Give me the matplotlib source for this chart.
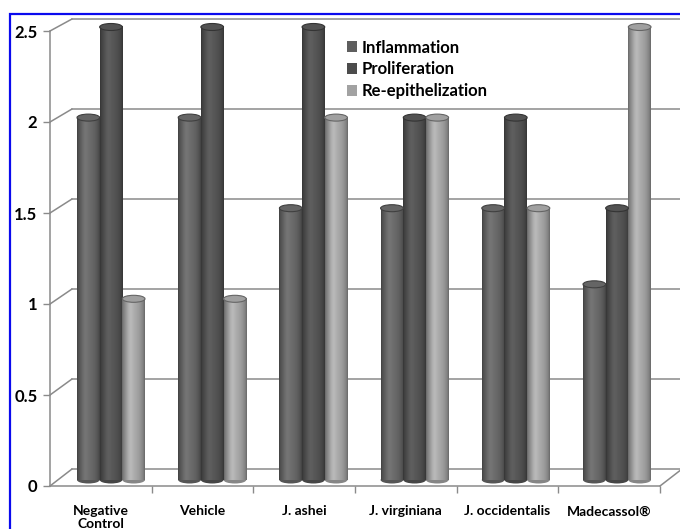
import numpy as np
import matplotlib
matplotlib.use('Agg')
import matplotlib.pyplot as plt
from matplotlib.patches import Ellipse, Rectangle, Patch, ConnectionPatch
from matplotlib.ticker import FixedLocator

plt.rcParams['font.family'] = ['Lato', 'DejaVu Sans']

# data
groups = ['Negative\nControl', 'Vehicle', 'J. ashei', 'J. virginiana', 'J. occidentalis', 'Madecassol®']
series = ['Inflammation', 'Proliferation', 'Re-epithelization']
inflammation = [2.0, 2.0, 1.5, 1.5, 1.5, 1.08]
proliferation = [2.5, 2.5, 2.5, 2.0, 2.0, 1.5]
reepithel = [1.0, 1.0, 2.0, 2.0, 1.5, 2.5]
yticks = [0, 0.5, 1, 1.5, 2, 2.5]
ytick_labels = ['0', '0.5', '1', '1.5', '2', '2.5']

colors = ['#6a6a6a', '#565656', '#a8a8a8']
legend_colors = ['#5e5e5e', '#4c4c4c', '#a2a2a2']
grid_c = '#8a8a8a'

W, H = 680, 529
fig = plt.figure(figsize=(W / 100, H / 100), dpi=100)


def rect(l, r, b, t):
    return [l / W, 1 - b / H, (r - l) / W, (b - t) / H]


# back wall
ax_back = fig.add_axes(rect(72, 682, 469, 19))
ax_back.set_xlim(-0.5, 5.5)
ax_back.set_ylim(0, 2.5)
ax_back.axis('off')
for v in yticks:
    ax_back.axhline(v, color=grid_c, lw=1.1, clip_on=False)

# bars (cylinders)
ax_bar = fig.add_axes(rect(60.4, 667.6, 480, 27))
ax_bar.axis('off')
ax_bar.patch.set_alpha(0)

bw = 0.224
t = np.linspace(0, 1, 64)
shade = 0.6 + 0.4 * np.sin(np.pi * t) ** 0.6 + 0.12 * np.exp(-((t - 0.35) / 0.15) ** 2)
x = np.arange(len(groups))
ell_h = 7 / 181.2
for k, vals in enumerate([inflammation, proliferation, reepithel]):
    base = np.array(matplotlib.colors.to_rgb(colors[k]))
    grad = np.clip(shade[None, :, None] * base[None, None, :], 0, 1)
    for i, v in enumerate(vals):
        xc = x[i] + (k - 1) * bw
        x0, x1 = xc - bw / 2, xc + bw / 2
        bot = Ellipse((xc, 0), bw, ell_h, fc=base * 0.8, ec='none', clip_on=False, zorder=2)
        ax_bar.add_patch(bot)
        ax_bar.imshow(grad, extent=(x0, x1, 0, v), aspect='auto', clip_on=False,
                      interpolation='bilinear', zorder=3)
        top = Ellipse((xc, v), bw, ell_h, fc=np.clip(base * 0.95, 0, 1),
                      ec=base * 0.6, lw=0.8, clip_on=False, zorder=4)
        ax_bar.add_patch(top)
ax_bar.set_xlim(-0.5, 5.5)
ax_bar.set_ylim(0, 2.5)

handles = [Patch(fc=c, ec='none') for c in legend_colors]
ax_bar.legend(handles, series, loc='upper left', bbox_to_anchor=(340 / W, 1 - 33 / H),
              bbox_transform=fig.transFigure, frameon=False,
              prop={'weight': 'bold', 'size': 12}, handlelength=0.6, handleheight=0.6,
              handletextpad=0.3, labelspacing=0.35, borderaxespad=0)

# front axis
ax_front = fig.add_axes(rect(50, 660, 486, 31))
ax_front.set_xlim(-0.5, 5.5)
ax_front.set_ylim(0, 2.5)
ax_front.patch.set_alpha(0)
for s in ['top', 'right']:
    ax_front.spines[s].set_visible(False)
for s in ['left', 'bottom']:
    ax_front.spines[s].set_color(grid_c)
    ax_front.spines[s].set_linewidth(1.1)
ax_front.set_yticks(yticks)
ax_front.set_yticklabels(ytick_labels, fontsize=12, fontweight='bold')
ax_front.tick_params(axis='y', length=5, width=1, color=grid_c, pad=4)
ax_front.set_xticks(x)
ax_front.set_xticklabels(groups, fontsize=10, fontweight='bold', linespacing=1.1)
ax_front.tick_params(axis='x', which='major', length=0, pad=14)
ax_front.xaxis.set_minor_locator(FixedLocator(np.arange(0.5, 6, 1)))
ax_front.tick_params(axis='x', which='minor', length=5, width=1, color=grid_c)

# side wall and floor edges
for v in yticks:
    con = ConnectionPatch(xyA=(-0.5, v), coordsA=ax_front.transData,
                          xyB=(-0.5, v), coordsB=ax_back.transData,
                          color=grid_c, lw=1.1)
    fig.add_artist(con)
con = ConnectionPatch(xyA=(5.5, 0), coordsA=ax_front.transData,
                      xyB=(5.5, 0), coordsB=ax_back.transData, color=grid_c, lw=1.1)
fig.add_artist(con)

# blue frame
fig.add_artist(Rectangle((10 / W, -0.05), 1.2, 1 - 14 / H + 0.05, transform=fig.transFigure,
                         fill=False, ec='#0a0aee', lw=1.6))

fig.savefig('out.png', dpi=100)
